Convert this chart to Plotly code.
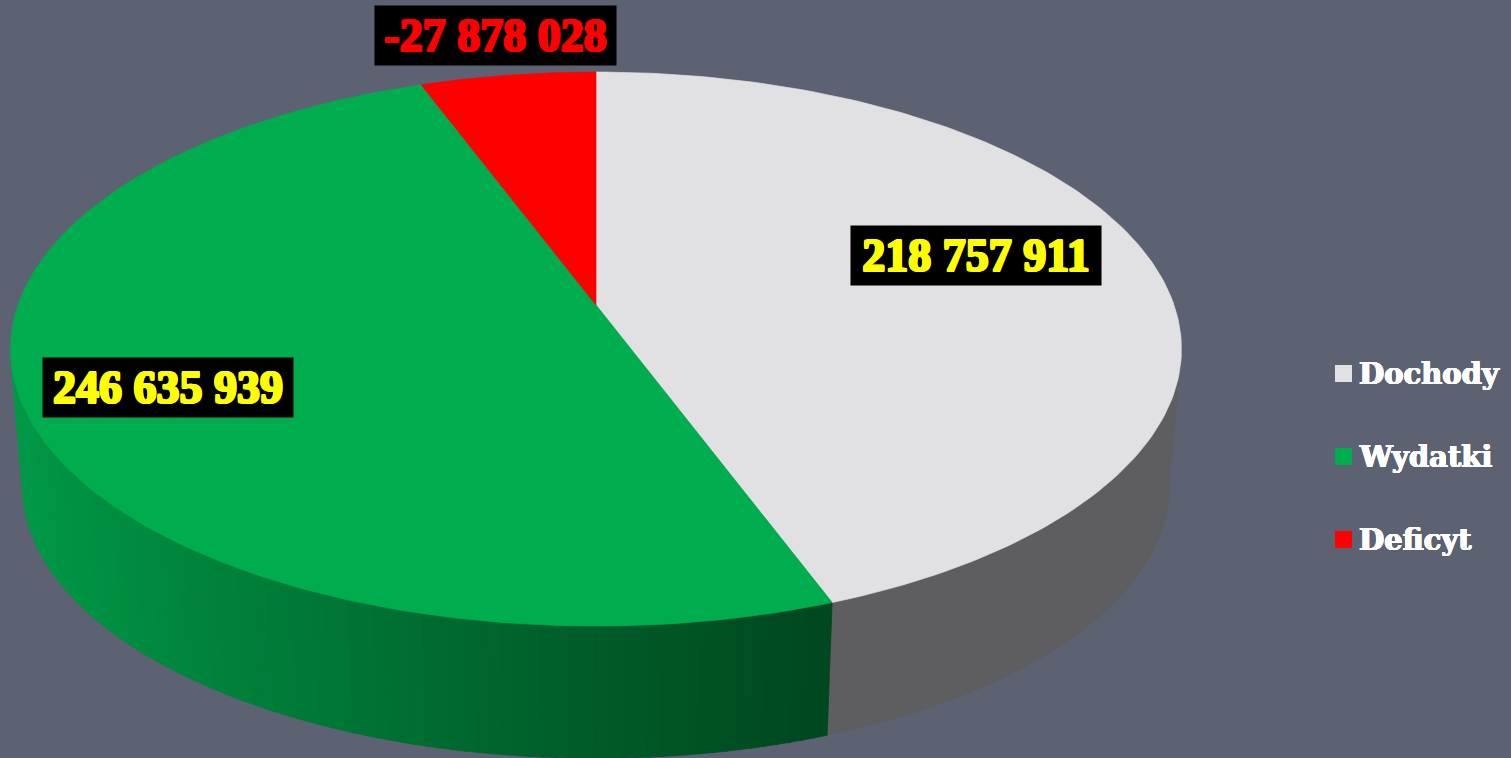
import numpy as np
import plotly.graph_objects as go

categories = ["Dochody", "Wydatki", "Deficyt"]
values = [218757911, 246635939, 27878028]
labels = ["218 757 911", "246 635 939", "-27 878 028"]
slice_colors = ["#E1E1E3", "#00AD4E", "#FF0000"]
label_colors = ["#FFFF00", "#FFFF00", "#FF0000"]
label_boxes = [(976, 255.5, 250), (168, 387.5, 250), (495.5, 35.5, 241)]

W, H = 1511, 758
BG = "#5C6272"
CX = 596.0
RX, RY, K = 578.0, 270.0, 0.159
TOP_Y, BOT_Y, BOT_S = 305.0, 444.0, 0.979


def project(theta, y0=TOP_Y, s=1.0):
    w = 1 + K * np.cos(theta)
    return CX + s * RX * np.sin(theta) / w, y0 - s * RY * np.cos(theta) / w


def face_arc(a, b, n=160):
    return project(np.linspace(a, b, n))


shares = np.array(values) / sum(values)
edges = np.concatenate([[0], np.cumsum(shares)]) * 2 * np.pi
tangent = np.arccos(-K)

fig = go.Figure()


def add_poly(x, y, color, name=None):
    fig.add_trace(go.Scatter(
        x=np.append(x, x[0]), y=np.append(y, y[0]), mode="lines", fill="toself",
        fillcolor=color, line=dict(color=color, width=0.7),
        showlegend=False, hoverinfo="text" if name else "skip", text=name, name=name or ""))


def green_side(x):
    stops_x = [15, 200, 450, 640, 830]
    g = [153, 132, 106, 88, 72]
    b = [72, 60, 48, 40, 32]
    return "rgb(0,%d,%d)" % (np.interp(x, stops_x, g), np.interp(x, stops_x, b))


def side_strip(a, b, color, n=6):
    t = np.linspace(a, b, n)
    x1, y1 = project(t)
    x2, y2 = project(t[::-1], BOT_Y, BOT_S)
    add_poly(np.concatenate([x1, x2]), np.concatenate([y1, y2]), color)


# grey side of the income slice, from the right silhouette to the slice edge
side_strip(tangent, edges[1], "#5E5E60", 80)

# green side, shaded in strips, up to the left silhouette
strip_edges = np.linspace(edges[1], 2 * np.pi - tangent, 91)
for a, b in zip(strip_edges[:-1][::-1], strip_edges[1:][::-1]):
    xm, _ = project((a + b) / 2)
    side_strip(a, b + 0.004, green_side(xm))

# top face slices
for i, cat in enumerate(categories):
    ax, ay = face_arc(edges[i], edges[i + 1])
    add_poly(np.concatenate([[CX], ax]), np.concatenate([[TOP_Y], ay]), slice_colors[i], cat)

# legend swatches
legend_y = [373.5, 456.5, 539.5]
fig.add_trace(go.Scatter(
    x=[1343.5] * 3, y=legend_y, mode="markers", showlegend=False, hoverinfo="skip",
    marker=dict(symbol="square", size=17, color=slice_colors, line=dict(width=0))))


def bold_shadow(c, d=0.6):
    return ",".join("%gpx %gpx 0 %s" % (dx, dy, c) for dx, dy in
                    [(d, 0), (-d, 0), (0, d), (0, -d), (d, d), (-d, -d), (d, -d), (-d, d)])


annotations = []
for cat, ly in zip(categories, legend_y):
    annotations.append(dict(
        x=1356.5, y=ly, xref="x", yref="y", text="<b>%s</b>" % cat, showarrow=False,
        xanchor="left", yanchor="middle",
        font=dict(family="DejaVu Serif", size=29, color="white", shadow=bold_shadow("white", 0.4))))
for txt, col, (bx, by, bw) in zip(labels, label_colors, label_boxes):
    annotations.append(dict(
        x=bx, y=by, xref="x", yref="y", text="<b>%s</b>" % txt, showarrow=False,
        xanchor="center", yanchor="middle", width=bw, height=59, align="center", valign="middle",
        bgcolor="#000000", borderpad=0,
        font=dict(family="Liberation Serif", size=46, color=col, shadow=bold_shadow(col, 1.0))))

fig.update_layout(
    width=W, height=H, autosize=False,
    margin=dict(l=0, r=0, t=0, b=0),
    paper_bgcolor=BG, plot_bgcolor=BG,
    xaxis=dict(range=[0, W], visible=False, fixedrange=True),
    yaxis=dict(range=[H, 0], visible=False, fixedrange=True),
    annotations=annotations,
    showlegend=False,
)
fig.write_html("out.html", config=dict(displayModeBar=False),
               post_script="document.body.style.margin='0';document.body.style.overflow='hidden';document.body.style.background='#5C6272';")
